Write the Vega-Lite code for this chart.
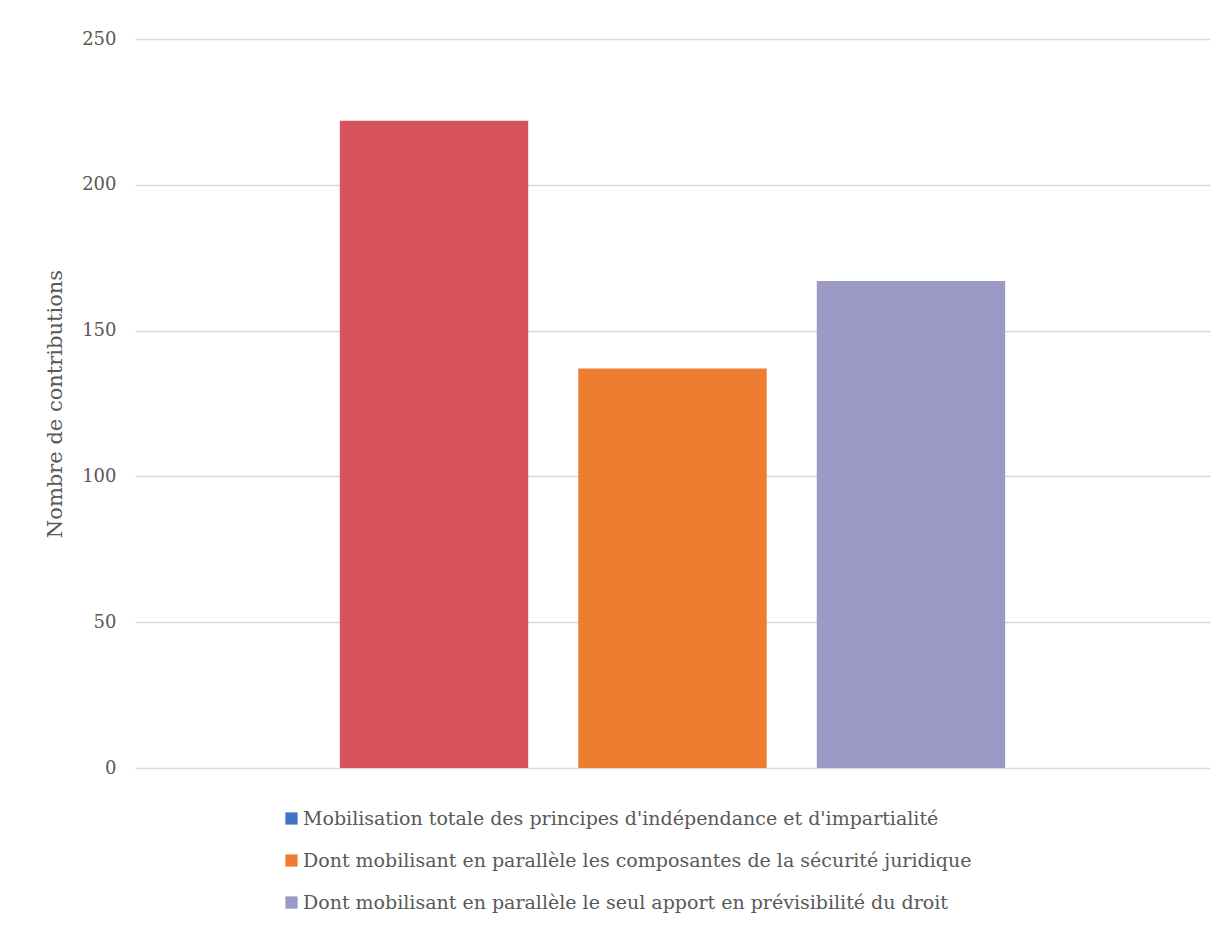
{
  "$schema": "https://vega.github.io/schema/vega-lite/v6.json",
  "width": 1075,
  "height": 729,
  "autosize": {"type": "none"},
  "padding": {"left": 135, "top": 39, "right": 12, "bottom": 164},
  "background": "white",
  "config": {
    "font": "DejaVu Serif",
    "view": {"stroke": null}
  },
  "data": {
    "values": [
      {"series": "Mobilisation totale des principes d'indépendance et d'impartialité", "value": 222},
      {"series": "Dont mobilisant en parallèle les composantes de la sécurité juridique", "value": 137},
      {"series": "Dont mobilisant en parallèle le seul apport en prévisibilité du droit", "value": 167}
    ]
  },
  "mark": {"type": "bar"},
  "encoding": {
    "x": {
      "field": "series",
      "type": "nominal",
      "sort": null,
      "axis": null,
      "scale": {"paddingInner": 0.21, "paddingOuter": 0.859}
    },
    "y": {
      "field": "value",
      "type": "quantitative",
      "scale": {"domain": [0, 250]},
      "axis": {
        "values": [0, 50, 100, 150, 200, 250],
        "title": "Nombre de contributions",
        "titleFont": "DejaVu Serif",
        "titleFontSize": 21,
        "titleFontWeight": "normal",
        "titleColor": "#595959",
        "titlePadding": 16,
        "labelFont": "DejaVu Serif",
        "labelFontSize": 18,
        "labelColor": "#595959",
        "labelPadding": 19,
        "ticks": false,
        "domain": false,
        "grid": true,
        "gridColor": "#D9D9D9",
        "gridWidth": 1.5
      }
    },
    "color": {
      "field": "series",
      "type": "nominal",
      "sort": null,
      "condition": {"test": "datum.series === \"Mobilisation totale des principes d'indépendance et d'impartialité\"", "value": "#D6545A"},
      "scale": {"range": ["#4472C4", "#ED7D31", "#9B9AC5"]},
      "legend": {
        "title": null,
        "orient": "none",
        "legendX": 147,
        "legendY": 770,
        "direction": "vertical",
        "symbolType": "square",
        "symbolSize": 150,
        "symbolStrokeWidth": 0,
        "labelFont": "DejaVu Serif",
        "labelFontSize": 19,
        "labelColor": "#595959",
        "labelOffset": 2,
        "labelLimit": 1000,
        "rowPadding": 22
      }
    }
  }
}
